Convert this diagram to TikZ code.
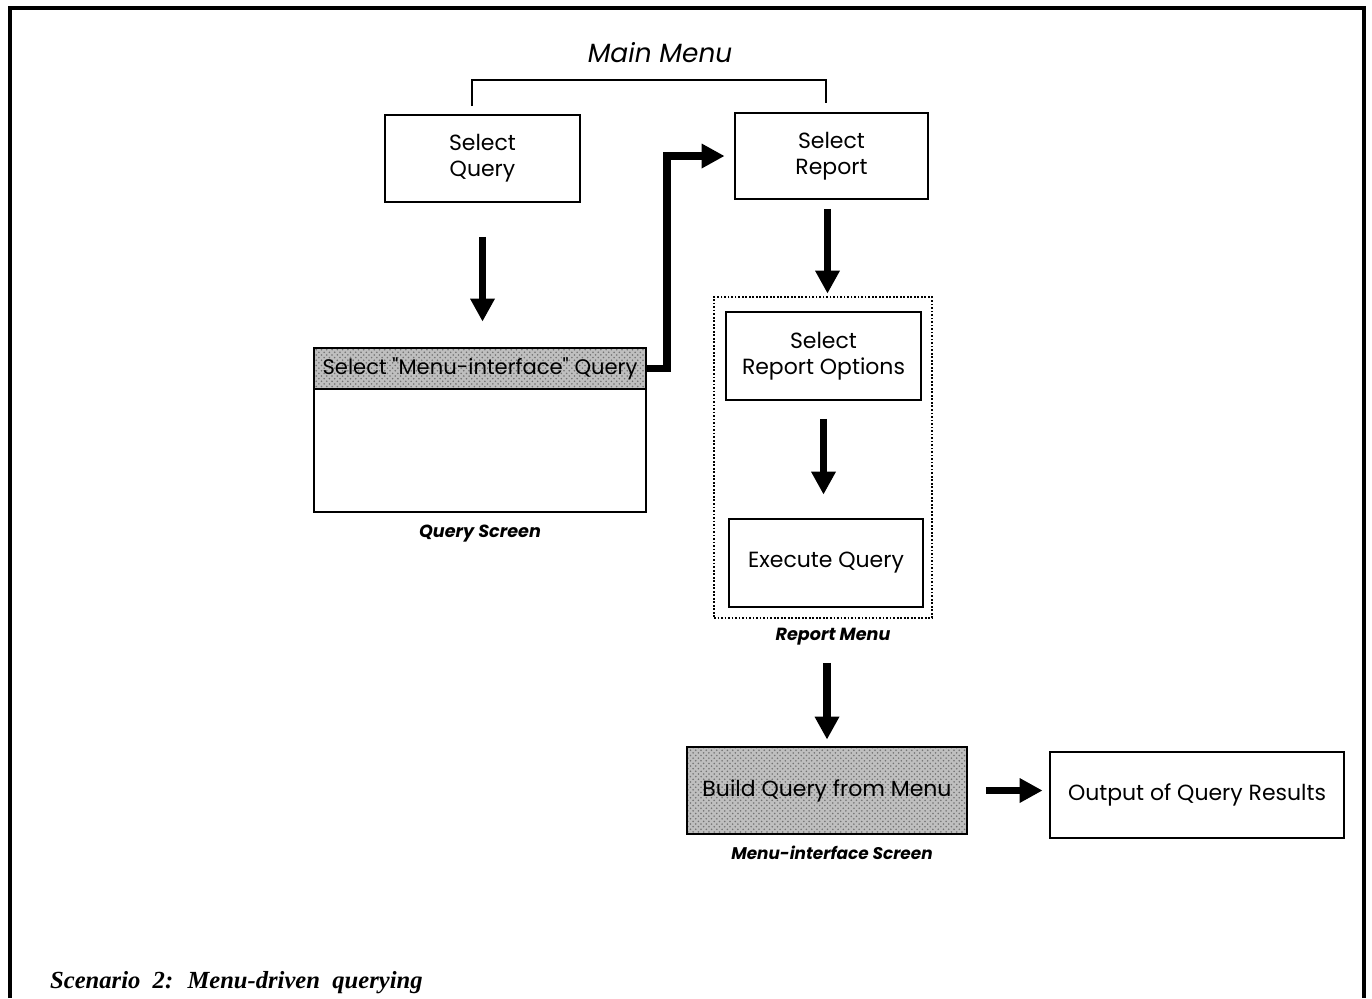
\documentclass[tikz,border=0pt]{standalone}
\usepackage{fontspec}
\setmainfont{Poppins}
\newfontfamily\capfont[WordSpace=2]{Liberation Serif}
\usepackage{tikz}
\usetikzlibrary{positioning, calc}
\usetikzlibrary{arrows.meta, patterns}
\tikzstyle{box}  =
[
	draw,rectangle,line width=1pt,inner sep=1mm,align=center,
	font=\fontsize{12.5}{15}\selectfont
]
\tikzstyle{greybox} =
[
	box, preaction={fill=black!25},
	pattern=crosshatch dots, pattern color=black!55
]
\tikzstyle{dotbox} = [draw,rectangle,densely dotted,line width=1pt]
\tikzstyle{screenname} = [inner sep=1pt, font=\fontsize{10}{12}\selectfont\bfseries\itshape]
\tikzstyle{fat} = [line width=4.5pt, -{Triangle[width=0.5cm,length=0.45cm,line width=0pt]}]

\begin{document}
\begin{tikzpicture}[x=0.02cm,y=-0.02cm]

\useasboundingbox (0,0) rectangle (1372,998);

% frame
\draw[line width=2.8pt] (10,998) -- (10,8) -- (1364,8) -- (1364,998);

\node[font=\fontsize{15}{18}\selectfont\itshape] (MM) at (660,53) {Main Menu};
\draw[line width=0.8pt] (472,106) |- (826,80) -- (826,103);

\node[box, minimum width=3.9cm, minimum height=1.74cm] (SQ) at (482.5,158.5) {Select\\Query};
\node[box, minimum width=3.86cm, minimum height=1.72cm] (SR) at (831.5,156) {Select\\Report};

% query screen
\node[box, minimum width=6.64cm, minimum height=3.28cm] (QS) at (480,430) {};
\node[greybox, minimum width=6.64cm, minimum height=0.82cm, inner xsep=0pt, anchor=north,
	font=\fontsize{12}{14}\selectfont] (QH) at (QS.north)
	{Select \textquotedbl Menu-interface\textquotedbl\ Query};
\node[screenname] (QSname) [below=0.2cm of QS] {Query Screen};

% report menu
\node[dotbox, minimum width=4.36cm, minimum height=6.42cm] (RM) at (823,457.5) {};
\node[box, minimum width=3.9cm, minimum height=1.76cm] (RO) at (823.5,356) {Select\\Report Options};
\node[box, minimum width=3.88cm, minimum height=1.76cm] (EQ) at (826,563) {Execute Query};
\node[screenname, xshift=0.2cm] (RMname) [below=0.14cm of RM] {Report Menu};

% menu-interface screen
\node[greybox, minimum width=5.6cm, minimum height=1.74cm] (BQ) at (827,790.5) {Build Query from Menu};
\node[screenname, xshift=0.1cm, font=\fontsize{9.6}{12}\selectfont\bfseries\itshape] (BQname)
	[below=0.18cm of BQ] {Menu-interface Screen};
\node[box, minimum width=5.88cm, minimum height=1.72cm] (OUT) at (1197,795) {Output of Query Results};

\node[anchor=base west, font=\capfont\bfseries\itshape\fontsize{14}{17}\selectfont] (cap) at (44,988)
	{Scenario 2: Menu-driven querying};

\path[fat]
	(SQ.south) edge[shorten <=0.68cm, shorten >=0.52cm] (SQ.south |- QS.north)
	([xshift=-0.08cm]SR.south) edge[shorten <=0.18cm, shorten >=0.06cm] ([xshift=-0.08cm]SR.south |- RM.north)
	(RO.south) edge[shorten <=0.36cm, shorten >=0.48cm] (RO.south |- EQ.north)
	(BQ.north |- RM.south) edge[shorten <=0.88cm, shorten >=0.14cm] (BQ.north)
	(BQ.east) edge[shorten <=0.36cm, shorten >=0.14cm] (BQ.east -| OUT.west);

\draw[fat, shorten >=0.2cm] (QH.east) -- ++(20,0) |- (SR.west);

\end{tikzpicture}
\end{document}
